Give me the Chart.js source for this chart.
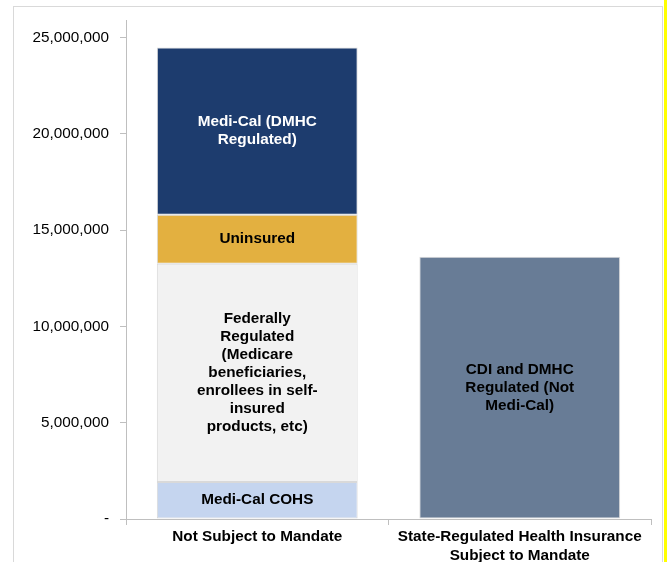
<!DOCTYPE html>
<html>
<head>
<meta charset="utf-8">
<script src="https://cdn.jsdelivr.net/npm/chart.js@4/dist/chart.umd.min.js"></script>
<style>
  html, body { margin: 0; padding: 0; background: #fff; }
  #wrap { width: 667px; height: 562px; position: relative; }
</style>
</head>
<body>
<div id="wrap"><canvas id="mandate" width="667" height="562"></canvas></div>
<script>
// chart data
const categories = [
    "Not Subject to Mandate",
    ["State-Regulated Health Insurance", "Subject to Mandate"]
];
const mediCalCohs = [1920000, null];
const federallyRegulated = [11330000, null];
const uninsured = [2550000, null];
const mediCalDmhc = [8680000, null];
const cdiDmhc = [null, 13620000];
const yTicks = [0, 5000000, 10000000, 15000000, 20000000, 25000000];

const FONT = "'Liberation Sans', Arial, sans-serif";

// text drawn inside each stacked segment
const segmentText = {
    "Medi-Cal COHS": ["Medi-Cal COHS"],
    "Federally Regulated": ["Federally", "Regulated", "(Medicare", "beneficiaries,", "enrollees in self-", "insured", "products, etc)"],
    "Uninsured": ["Uninsured"],
    "Medi-Cal (DMHC Regulated)": ["Medi-Cal (DMHC", "Regulated)"],
    "CDI and DMHC Regulated (Not Medi-Cal)": ["CDI and DMHC", "Regulated (Not", "Medi-Cal)"]
};

const frame = {
    id: "frame",
    beforeDraw(chart) {
        const ctx = chart.ctx;
        ctx.save();
        ctx.fillStyle = "#fff";
        ctx.fillRect(0, 0, chart.width, chart.height);
        ctx.strokeStyle = "#d9d9d9";
        ctx.lineWidth = 1;
        ctx.strokeRect(13.5, 6.5, 649, 570);
        ctx.fillStyle = "#ffff00";
        ctx.fillRect(664, 0, 3, chart.height);
        ctx.restore();
    }
};

const segLabels = {
    id: "segLabels",
    afterDatasetsDraw(chart) {
        const ctx = chart.ctx;
        ctx.save();
        ctx.font = "bold 15.3px " + FONT;
        ctx.textAlign = "center";
        ctx.textBaseline = "middle";
        chart.data.datasets.forEach((ds, i) => {
            const meta = chart.getDatasetMeta(i);
            meta.data.forEach((bar, j) => {
                if (ds.data[j] == null) return;
                const lines = segmentText[ds.label];
                const cy = (bar.y + bar.base) / 2;
                const lh = 18;
                ctx.fillStyle = ds.textColor;
                lines.forEach((t, k) => {
                    ctx.fillText(t, bar.x, cy + (k - (lines.length - 1) / 2) * lh);
                });
            });
        });
        ctx.restore();
    }
};

new Chart(document.getElementById("mandate"), {
    type: "bar",
    data: {
        labels: categories,
        datasets: [
            { label: "Medi-Cal COHS", data: mediCalCohs, backgroundColor: "#c5d5ef", textColor: "#000" },
            { label: "Federally Regulated", data: federallyRegulated, backgroundColor: "#f2f2f2", textColor: "#000" },
            { label: "Uninsured", data: uninsured, backgroundColor: "#e3b040", textColor: "#000" },
            { label: "Medi-Cal (DMHC Regulated)", data: mediCalDmhc, backgroundColor: "#1d3c6e", textColor: "#fff" },
            { label: "CDI and DMHC Regulated (Not Medi-Cal)", data: cdiDmhc, backgroundColor: "#687c96", textColor: "#000" }
        ]
    },
    options: {
        responsive: false,
        animation: false,
        layout: { padding: { top: 20, right: 16, left: 0, bottom: 0 } },
        datasets: {
            bar: {
                barPercentage: 0.765,
                categoryPercentage: 1,
                borderWidth: 1,
                borderColor: "#d9d9d9",
                borderSkipped: false
            }
        },
        plugins: {
            legend: { display: false },
            tooltip: { enabled: false }
        },
        scales: {
            x: {
                stacked: true,
                grid: { drawOnChartArea: false, tickLength: 6, color: "#bfbfbf", offset: true },
                border: { color: "#bfbfbf" },
                ticks: { color: "#000", font: { family: FONT, size: 15.3, weight: "bold" }, padding: 3, maxRotation: 0 },
                afterFit(s) { s.height = 43; }
            },
            y: {
                stacked: true,
                min: 0,
                max: 25900000,
                grid: { drawOnChartArea: false, tickLength: 6, color: "#bfbfbf" },
                border: { color: "#bfbfbf" },
                ticks: {
                    color: "#000",
                    font: { family: FONT, size: 15.3 },
                    padding: 11,
                    callback: v => v === 0 ? "-" : v.toLocaleString("en-US")
                },
                afterBuildTicks(s) { s.ticks = yTicks.map(v => ({ value: v })); },
                afterFit(s) { s.width = 126; }
            }
        }
    },
    plugins: [frame, segLabels]
});
</script>
</body>
</html>
